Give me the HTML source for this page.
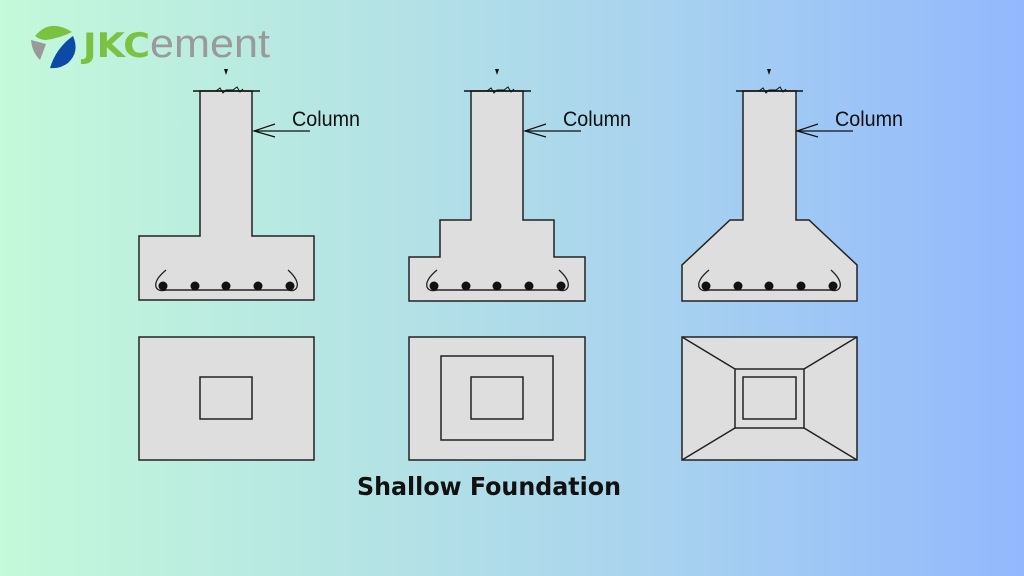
<!DOCTYPE html>
<html><head><meta charset="utf-8"><style>
html,body{margin:0;padding:0;width:1024px;height:576px;overflow:hidden}
body{background:linear-gradient(90deg,#c4f9da 0%,#b5e4e4 35%,#a8d2ef 65%,#93b8fd 100%)}
svg{display:block}
</style></head><body>
<svg width="1024" height="576" viewBox="0 0 1024 576" xmlns="http://www.w3.org/2000/svg">
<defs>
<g id="top">
  <line x1="193" y1="91" x2="260" y2="91" stroke="#111" stroke-width="1.5"/>
  <path d="M216 91 l4 -3 l3 5 l3 -3 l7 0 l4 -3 l3 5 l3 -3" fill="none" stroke="#111" stroke-width="1"/>
  <path d="M224 69 l4 0 l-2 6 z" fill="#111"/>
  <line x1="254" y1="131" x2="310" y2="131" stroke="#111" stroke-width="1.2"/>
  <path d="M275 124 L254 131 L275 137" fill="none" stroke="#111" stroke-width="1.2"/>
  <text x="292" y="126" font-family="Liberation Sans, sans-serif" font-size="21" fill="#111" textLength="68" lengthAdjust="spacingAndGlyphs">Column</text>
</g>
<g id="bars">
  <line x1="163" y1="290" x2="291" y2="290" stroke="#222" stroke-width="1.5"/>
  <path d="M166 270 Q154 280 156 287 Q158 292 166 290" fill="none" stroke="#222" stroke-width="1.3"/>
  <path d="M288 270 Q299 280 297 287 Q295 292 288 290" fill="none" stroke="#222" stroke-width="1.3"/>
  <circle cx="163" cy="286" r="4.5" fill="#111"/>
  <circle cx="195" cy="286" r="4.5" fill="#111"/>
  <circle cx="226" cy="286" r="4.5" fill="#111"/>
  <circle cx="258" cy="286" r="4.5" fill="#111"/>
  <circle cx="290" cy="286" r="4.5" fill="#111"/>
</g>
</defs>
<g fill="#dedede" stroke="#222" stroke-width="1.5">
  <path d="M200 91 L200 236 L139 236 L139 300 L314 300 L314 236 L252 236 L252 91 Z"/>
  <rect x="139" y="337" width="175" height="123"/>
  <rect x="200" y="377" width="52" height="42"/>
  <path d="M471 91 L471 220 L440 220 L440 257 L409 257 L409 301 L585 301 L585 257 L554 257 L554 220 L523 220 L523 91 Z"/>
  <rect x="409" y="337" width="176" height="123"/>
  <rect x="441" y="356" width="112" height="84"/>
  <rect x="471" y="377" width="52" height="42"/>
  <path d="M743 91 L743 220 L730 220 L682 265 L682 301 L857 301 L857 265 L809 220 L796 220 L796 91 Z"/>
  <rect x="682" y="337" width="175" height="123"/>
  <rect x="735" y="369" width="69" height="59"/>
  <rect x="743" y="377" width="53" height="42"/>
  <path d="M682 337 L735 369 M857 337 L804 369 M682 460 L735 428 M857 460 L804 428" fill="none"/>
</g>
<use href="#top"/>
<use href="#top" transform="translate(271,0)"/>
<use href="#top" transform="translate(543,0)"/>
<use href="#bars"/>
<use href="#bars" transform="translate(271,0)"/>
<use href="#bars" transform="translate(543,0)"/>
<text x="357" y="495" font-family="DejaVu Sans, sans-serif" font-weight="bold" font-size="25" fill="#111" textLength="264" lengthAdjust="spacingAndGlyphs">Shallow Foundation</text>
<path d="M35 36 Q50 18 72 32 Q60 38 46 40 Q40 40 35 36 Z" fill="#7cc242"/>
<path d="M31 40 L46 44 L40 60 Q32 52 31 40 Z" fill="#999"/>
<path d="M73 36 Q80 52 68 63 Q60 69 50 68 Q56 48 73 36 Z" fill="#0b4aa6"/>
<text x="83" y="57" font-family="DejaVu Sans, sans-serif" font-weight="bold" font-size="34" fill="#7cc242" textLength="67" lengthAdjust="spacingAndGlyphs">JKC</text>
<text x="150" y="57" font-family="Liberation Sans, sans-serif" font-size="40" fill="#9a9a9a" textLength="120" lengthAdjust="spacingAndGlyphs">ement</text>
</svg>
</body></html>
